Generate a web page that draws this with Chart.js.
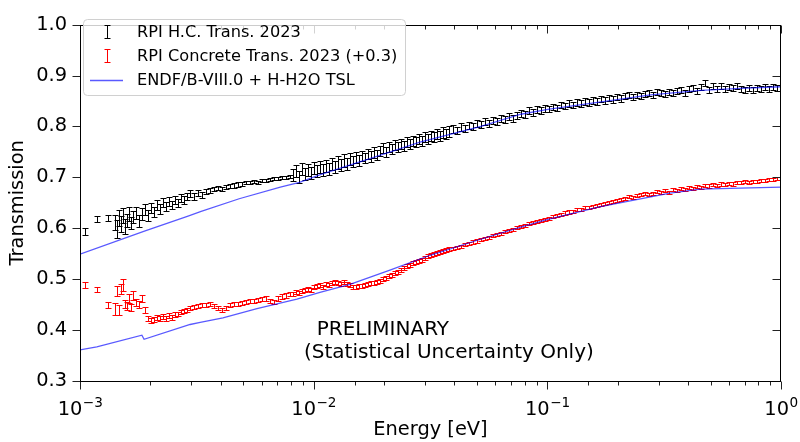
<!DOCTYPE html>
<html><head><meta charset="utf-8">
<script src="https://cdn.jsdelivr.net/npm/chart.js@4.4.0/dist/chart.umd.min.js"></script>
<style>html,body{margin:0;padding:0;background:#fff}#wrap{width:800px;height:442px}</style>
</head><body><div id="wrap"><canvas id="c" width="800" height="442"></canvas></div>
<script>
// ---------- DATA ----------
const energy = [
0.001051,0.001182,0.001318,
0.001412,0.001440,0.001469,0.001498,0.001528,0.001558,0.001589,0.001621,0.001653,0.001686,
0.001736,0.001789,0.001842,0.001897,0.001954,0.002013,0.002073,0.002136,0.002200,0.002266,
0.002334,0.002404,0.002476,0.002550,0.002626,0.002705,0.002786,0.002870,0.002956,
0.003075,0.003198,0.003327,0.003461,0.003600,0.003745,0.003895,0.004052,0.004215,0.004384,
0.004561,0.004744,0.004935,0.005133,0.005339,0.005554,0.005777,0.006009,0.006251,0.006502,
0.006764,0.007035,0.007318,0.007612,0.007918,
0.008155,0.008400,0.008652,0.008911,0.009179,0.009454,0.009737,0.01003,0.01033,0.01064,
0.01096,0.01129,0.01163,0.01197,0.01233,0.01270,0.01308,0.01348,0.01388,0.01430,
0.01473,0.01517,0.01562,0.01609,0.01657,0.01707,0.01758,0.01811,0.01865,0.01921,
0.01979,0.02038,0.02099,0.02162,0.02227,0.02294,0.02363,0.02434,0.02507,0.02582,
0.02659,0.02739,0.02821,0.02906,0.02993,0.03083,0.03175,0.03271,0.03369,0.03470,
0.03574,0.03681,0.03792,
0.03946,0.04105,0.04270,0.04441,0.04620,0.04805,0.04998,0.05199,0.05408,0.05626,
0.05852,0.06087,0.06332,0.06586,0.06851,0.07126,0.07413,0.07711,0.08021,0.08343,
0.08678,0.09027,0.09390,0.09767,
0.1016,0.1057,0.1099,0.1143,0.1189,0.1237,0.1287,0.1339,0.1392,0.1448,
0.1507,0.1567,0.1630,0.1696,0.1764,0.1835,0.1908,0.1985,0.2065,0.2148,
0.2234,0.2324,0.2418,0.2515,0.2616,0.2721,0.2830,0.2944,0.3063,0.3186,
0.3314,0.3447,0.3585,0.3729,0.3879,0.4035,0.4197,0.4366,0.4541,0.4724,
0.4914,0.5111,0.5317,0.5530,0.5753,0.5984,0.6224,0.6475,0.6735,0.7006,
0.7287,0.7580,0.7885,0.8202,0.8532,0.8875,0.9231,0.9603
];
const hcTrans = [
0.593,0.619,0.620,
0.612,0.598,0.620,0.608,0.625,0.603,0.615,0.628,0.610,0.622,
0.630,0.615,0.628,0.637,0.625,0.640,0.632,0.645,0.638,0.650,
0.642,0.652,0.646,0.656,0.650,0.660,0.655,0.662,0.668,
0.663,0.670,0.666,0.672,0.675,0.677,0.679,0.678,0.681,0.683,
0.684,0.686,0.687,0.689,0.689,0.691,0.690,0.693,0.694,0.696,
0.697,0.698,0.699,0.700,0.701,
0.705,0.712,0.700,0.716,0.707,0.714,0.709,0.718,0.712,0.720,
0.714,0.723,0.717,0.726,0.720,0.729,0.724,0.733,0.727,0.736,
0.731,0.739,0.733,0.742,0.738,0.746,0.741,0.749,0.744,0.752,
0.757,0.750,0.760,0.756,0.763,0.759,0.766,0.762,0.770,0.765,
0.772,0.769,0.776,0.772,0.779,0.775,0.782,0.779,0.785,0.782,
0.788,0.785,0.790,
0.795,0.792,0.799,0.796,0.802,0.800,0.806,0.803,0.809,0.806,
0.812,0.810,0.815,0.813,0.819,0.816,0.822,0.826,0.824,0.831,
0.828,0.834,0.832,0.836,
0.834,0.839,0.836,0.842,0.840,0.845,0.842,0.847,0.845,0.849,
0.847,0.851,0.849,0.854,0.851,0.856,0.853,0.857,0.855,0.859,
0.861,0.858,0.862,0.860,0.863,0.866,0.862,0.867,0.865,0.864,
0.868,0.866,0.869,0.872,0.866,0.874,0.876,0.870,0.877,0.885,
0.872,0.879,0.874,0.880,0.873,0.878,0.875,0.880,0.874,0.872,
0.876,0.871,0.875,0.873,0.877,0.874,0.878,0.876
];
const hcErr = [
0.007,0.006,0.006,
0.015,0.018,0.015,0.016,0.014,0.015,0.013,0.014,0.012,0.012,
0.012,0.012,0.011,0.011,0.010,0.010,0.010,0.010,0.009,0.009,
0.009,0.009,0.008,0.008,0.008,0.008,0.008,0.007,0.007,
0.007,0.006,0.006,0.005,0.005,0.004,0.004,0.004,0.004,0.004,
0.004,0.004,0.004,0.003,0.003,0.003,0.003,0.003,0.003,0.003,
0.003,0.003,0.003,0.003,0.003,
0.012,0.012,0.012,0.012,0.012,0.012,0.012,0.012,0.012,0.012,
0.012,0.012,0.012,0.012,0.012,0.012,0.012,0.012,0.012,0.012,
0.010,0.010,0.010,0.010,0.010,0.010,0.010,0.010,0.010,0.010,
0.010,0.010,0.010,0.010,0.010,0.010,0.010,0.010,0.010,0.010,
0.010,0.010,0.010,0.010,0.010,0.010,0.010,0.010,0.010,0.010,
0.010,0.010,0.010,
0.007,0.007,0.007,0.007,0.007,0.007,0.007,0.007,0.007,0.007,
0.007,0.007,0.007,0.007,0.007,0.007,0.007,0.007,0.007,0.007,
0.007,0.007,0.007,0.007,
0.006,0.006,0.006,0.006,0.006,0.006,0.006,0.006,0.006,0.006,
0.006,0.006,0.006,0.006,0.006,0.006,0.006,0.006,0.006,0.006,
0.006,0.006,0.006,0.006,0.006,0.006,0.006,0.006,0.006,0.006,
0.006,0.006,0.006,0.006,0.006,0.006,0.006,0.006,0.006,0.006,
0.006,0.006,0.006,0.006,0.006,0.006,0.006,0.006,0.006,0.006,
0.006,0.006,0.006,0.006,0.006,0.006,0.006,0.006
];
const concTrans = [
0.488,0.480,0.449,
0.442,0.476,0.440,0.480,0.488,0.452,0.448,0.462,0.445,0.468,
0.455,0.450,0.462,0.440,0.422,0.418,0.421,0.425,0.423,0.426,
0.422,0.428,0.425,0.430,0.432,0.436,0.438,0.440,0.443,
0.445,0.447,0.449,0.450,0.452,0.448,0.444,0.440,0.443,0.449,
0.451,0.452,0.454,0.456,0.457,0.458,0.459,0.461,0.462,0.458,
0.456,0.462,0.466,0.468,0.470,
0.470,0.474,0.472,0.476,0.478,0.481,0.478,0.484,0.486,0.488,
0.485,0.490,0.488,0.492,0.494,0.493,0.491,0.494,0.490,0.488,
0.485,0.484,0.486,0.487,0.489,0.490,0.492,0.493,0.495,0.497,
0.500,0.503,0.506,0.509,0.512,0.515,0.518,0.522,0.525,0.528,
0.531,0.533,0.536,0.538,0.541,0.545,0.548,0.550,0.551,0.553,
0.555,0.557,0.559,
0.560,0.563,0.565,0.568,0.570,0.573,0.575,0.578,0.580,0.582,
0.585,0.588,0.590,0.593,0.595,0.598,0.601,0.604,0.606,0.609,
0.611,0.613,0.616,0.618,
0.620,0.623,0.625,0.627,0.630,0.632,0.633,0.636,0.637,0.640,
0.641,0.643,0.645,0.647,0.649,0.651,0.653,0.655,0.657,0.659,
0.662,0.661,0.664,0.666,0.668,0.666,0.669,0.672,0.670,0.674,
0.671,0.676,0.674,0.678,0.676,0.680,0.679,0.682,0.680,0.684,
0.683,0.686,0.684,0.687,0.686,0.688,0.687,0.690,0.689,0.691,
0.690,0.692,0.692,0.694,0.693,0.695,0.696,0.697
];
const concErr = [
0.006,0.005,0.006,
0.012,0.010,0.010,0.010,0.012,0.008,0.008,0.008,0.007,0.008,
0.007,0.007,0.006,0.006,0.005,0.005,0.005,0.005,0.005,0.005,
0.005,0.005,0.005,0.005,0.004,0.004,0.004,0.004,0.004,
0.004,0.004,0.004,0.004,0.004,0.004,0.004,0.004,0.004,0.004,
0.004,0.004,0.004,0.004,0.004,0.004,0.004,0.004,0.004,0.004,
0.004,0.004,0.004,0.004,0.004,
0.004,0.004,0.004,0.004,0.004,0.004,0.004,0.004,0.004,0.004,
0.004,0.004,0.004,0.004,0.004,0.004,0.004,0.004,0.004,0.004,
0.004,0.004,0.004,0.004,0.004,0.004,0.004,0.004,0.004,0.004,
0.004,0.004,0.004,0.004,0.004,0.004,0.004,0.004,0.004,0.004,
0.004,0.004,0.004,0.004,0.004,0.004,0.004,0.004,0.004,0.004,
0.004,0.004,0.004,
0.003,0.003,0.003,0.003,0.003,0.003,0.003,0.003,0.003,0.003,
0.003,0.003,0.003,0.003,0.003,0.003,0.003,0.003,0.003,0.003,
0.003,0.003,0.003,0.003,
0.003,0.003,0.003,0.003,0.003,0.003,0.003,0.003,0.003,0.003,
0.003,0.003,0.003,0.003,0.003,0.003,0.003,0.003,0.003,0.003,
0.003,0.003,0.003,0.003,0.003,0.003,0.003,0.003,0.003,0.003,
0.003,0.003,0.003,0.003,0.003,0.003,0.003,0.003,0.003,0.003,
0.003,0.003,0.003,0.003,0.003,0.003,0.003,0.003,0.003,0.003,
0.003,0.003,0.003,0.003,0.003,0.003,0.003,0.003
];
const endfHCEnergy = [0.001,0.0019,0.0029,0.0033,0.0048,0.0072,0.0087,0.0106,0.0174,0.0285,0.052,0.077,0.102,0.167,0.277,0.455,0.667,1.0];
const endfHC       = [0.549,0.595,0.624,0.633,0.658,0.681,0.690,0.705,0.737,0.769,0.800,0.824,0.834,0.848,0.862,0.871,0.875,0.878];
const endfConcEnergy = [0.001,0.00118,0.00184,0.00188,0.00296,0.00327,0.00409,0.00572,0.00848,0.01064,0.0143,0.0212,0.0315,0.049,0.0763,0.0977,0.167,0.335,0.45,1.0];
const endfConc       = [0.361,0.367,0.390,0.382,0.411,0.415,0.424,0.442,0.461,0.474,0.490,0.518,0.547,0.575,0.602,0.616,0.642,0.669,0.677,0.681];

const xTickExponents = {'-3':'\u22123','-2':'\u22122','-1':'\u22121','0':'0'};
const legendLabels = ['RPI H.C. Trans. 2023','RPI Concrete Trans. 2023 (+0.3)','ENDF/B-VIII.0 + H-H2O TSL'];
const noteLines = ['  PRELIMINARY','(Statistical Uncertainty Only)'];
const noteAnchor = {x:0.00909, y:0.4015};

// ---------- CHART ----------
const FONT = 'DejaVu Sans';
const FS = 19.4;
const BLUE = 'rgba(0,0,255,0.65)';
Chart.defaults.font.family = FONT;
Chart.defaults.color = '#000';

const decor = {
  id:'decor',
  beforeDatasetsDraw(chart){
    const ctx = chart.ctx, ys = chart.scales.y, a = chart.chartArea;
    ctx.save();
    ctx.beginPath(); ctx.rect(a.left, a.top, a.right-a.left, a.bottom-a.top); ctx.clip();
    chart.data.datasets.forEach((ds, di) => {
      if (!ds.errors) return;
      const meta = chart.getDatasetMeta(di);
      ctx.strokeStyle = ds.barColor; ctx.lineWidth = 1;
      ctx.beginPath();
      meta.data.forEach((pt, i) => {
        const v = ds.data[i].y, e = ds.errors[i];
        if (v == null || e == null) return;
        const x = Math.round(pt.x) + 0.5;
        const y1 = Math.round(ys.getPixelForValue(v + e)) + 0.5;
        const y2 = Math.round(ys.getPixelForValue(v - e)) + 0.5;
        ctx.moveTo(x, y1); ctx.lineTo(x, y2);
        ctx.moveTo(x - 3, y1); ctx.lineTo(x + 3, y1);
        ctx.moveTo(x - 3, y2); ctx.lineTo(x + 3, y2);
      });
      ctx.stroke();
    });
    ctx.restore();
  },
  afterDraw(chart){
    const ctx = chart.ctx, a = chart.chartArea, xs = chart.scales.x, ys = chart.scales.y;
    const L = Math.round(a.left) + 0.5, R = Math.round(a.right) - 0.5;
    const T = Math.round(a.top) + 0.5, B = Math.round(a.bottom) + 0.5;
    ctx.save();
    // ticks
    ctx.strokeStyle = '#222'; ctx.lineWidth = 1;
    ctx.beginPath();
    ys.ticks.forEach(t => {
      const y = Math.round(ys.getPixelForValue(t.value)) + 0.5;
      ctx.moveTo(L - 8, y); ctx.lineTo(L, y);
      ctx.moveTo(R - 8, y); ctx.lineTo(R, y);
    });
    const majors = [];
    xs.ticks.forEach(t => {
      const lg = Math.log10(t.value);
      const major = Math.abs(lg - Math.round(lg)) < 1e-6;
      const x = Math.round(xs.getPixelForValue(t.value)) + 0.5;
      if (major) majors.push({x: xs.getPixelForValue(t.value), e: Math.round(lg)});
      const len = major ? 8 : 4;
      ctx.moveTo(x, B); ctx.lineTo(x, B + len);
      ctx.moveTo(x, T); ctx.lineTo(x, T + len);
    });
    ctx.stroke();
    // frame
    ctx.strokeStyle = '#000'; ctx.lineWidth = 1;
    ctx.strokeRect(L, T, R - L, B - T);

    // x tick labels: 10 with superscript exponent
    ctx.fillStyle = '#000'; ctx.textBaseline = 'alphabetic'; ctx.textAlign = 'left';
    const baseFont = FS + 'px "' + FONT + '"', supFont = (FS * 0.7).toFixed(1) + 'px "' + FONT + '"';
    majors.forEach(m => {
      const exp = xTickExponents[String(m.e === 0 ? 0 : m.e)];
      ctx.font = baseFont; const w1 = ctx.measureText('10').width;
      ctx.font = supFont; const w2 = ctx.measureText(exp).width;
      const x0 = m.x - (w1 + w2) / 2, by = a.bottom + 34;
      ctx.font = baseFont; ctx.fillText('10', x0, by);
      ctx.font = supFont; ctx.fillText(exp, x0 + w1 + 0.5, by - 8.5);
    });

    // legend
    const lx = 83.5, ly = 19.5, lw = 322, lh = 76, r = 4;
    ctx.beginPath();
    ctx.moveTo(lx + r, ly); ctx.lineTo(lx + lw - r, ly); ctx.arcTo(lx + lw, ly, lx + lw, ly + r, r);
    ctx.lineTo(lx + lw, ly + lh - r); ctx.arcTo(lx + lw, ly + lh, lx + lw - r, ly + lh, r);
    ctx.lineTo(lx + r, ly + lh); ctx.arcTo(lx, ly + lh, lx, ly + lh - r, r);
    ctx.lineTo(lx, ly + r); ctx.arcTo(lx, ly, lx + r, ly, r); ctx.closePath();
    ctx.fillStyle = 'rgba(255,255,255,0.8)'; ctx.fill();
    ctx.strokeStyle = '#d0d0d0'; ctx.stroke();
    const rows = [32, 56, 80];
    const ebColors = ['#000', '#ff0000'];
    for (let i = 0; i < 2; i++) {
      const x = 107.5, y = rows[i];
      ctx.strokeStyle = ebColors[i]; ctx.beginPath();
      ctx.moveTo(x, y - 7); ctx.lineTo(x, y + 7);
      ctx.moveTo(x - 3, y - 6.5); ctx.lineTo(x + 3, y - 6.5);
      ctx.moveTo(x - 3, y + 6.5); ctx.lineTo(x + 3, y + 6.5);
      ctx.stroke();
    }
    ctx.strokeStyle = BLUE; ctx.lineWidth = 1.3;
    ctx.beginPath(); ctx.moveTo(90, rows[2] + 0.5); ctx.lineTo(123, rows[2] + 0.5); ctx.stroke();
    ctx.fillStyle = '#000'; ctx.font = '16.2px "' + FONT + '"'; ctx.textBaseline = 'middle'; ctx.textAlign = 'left';
    legendLabels.forEach((s, i) => ctx.fillText(s, 137, rows[i] + 1));

    // note
    ctx.font = '20px "' + FONT + '"';
    const nx = xs.getPixelForValue(noteAnchor.x), ny = ys.getPixelForValue(noteAnchor.y);
    noteLines.forEach((s, i) => ctx.fillText(s, nx, ny + i * 23.5));
    ctx.restore();
  }
};

const toXY = (xsArr, ysArr) => xsArr.map((x, i) => ({x: x, y: ysArr[i]}));

new Chart(document.getElementById('c'), {
  type: 'scatter',
  data: {
    datasets: [
      {label: legendLabels[0], data: toXY(energy, hcTrans), errors: hcErr, barColor: '#000', pointRadius: 0, showLine: false},
      {label: legendLabels[1], data: toXY(energy, concTrans), errors: concErr, barColor: '#ff0000', pointRadius: 0, showLine: false},
      {label: legendLabels[2], data: toXY(endfHCEnergy, endfHC), showLine: true, borderColor: BLUE, borderWidth: 1.3, pointRadius: 0, fill: false},
      {label: legendLabels[2] + ' (concrete)', data: toXY(endfConcEnergy, endfConc), showLine: true, borderColor: BLUE, borderWidth: 1.3, pointRadius: 0, fill: false}
    ]
  },
  options: {
    responsive: false, animation: false, devicePixelRatio: 1,
    layout: {padding: {top: 15, right: 19, left: 0, bottom: 0}},
    plugins: {legend: {display: false}, tooltip: {enabled: false}},
    events: [],
    scales: {
      x: {
        type: 'logarithmic', min: 0.001, max: 1,
        grid: {display: false, drawTicks: false}, border: {display: false},
        ticks: {display: false, autoSkip: false},
        title: {display: true, text: 'Energy [eV]', color: '#000', font: {family: FONT, size: FS}, padding: {top: 0, bottom: 0}},
        afterFit: (s) => { s.height = 61; s.paddingLeft = 0; s.paddingRight = 0; }
      },
      y: {
        min: 0.3, max: 1.0,
        grid: {display: false, drawTicks: false}, border: {display: false},
        ticks: {stepSize: 0.1, padding: 13, color: '#000', font: {family: FONT, size: FS}, callback: (v) => Number(v).toFixed(1)},
        title: {display: true, text: 'Transmission', color: '#000', font: {family: FONT, size: FS}, padding: {top: 6, bottom: 0}},
        afterFit: (s) => { s.width = 80; }
      }
    }
  },
  plugins: [decor]
});
</script>
</body></html>
